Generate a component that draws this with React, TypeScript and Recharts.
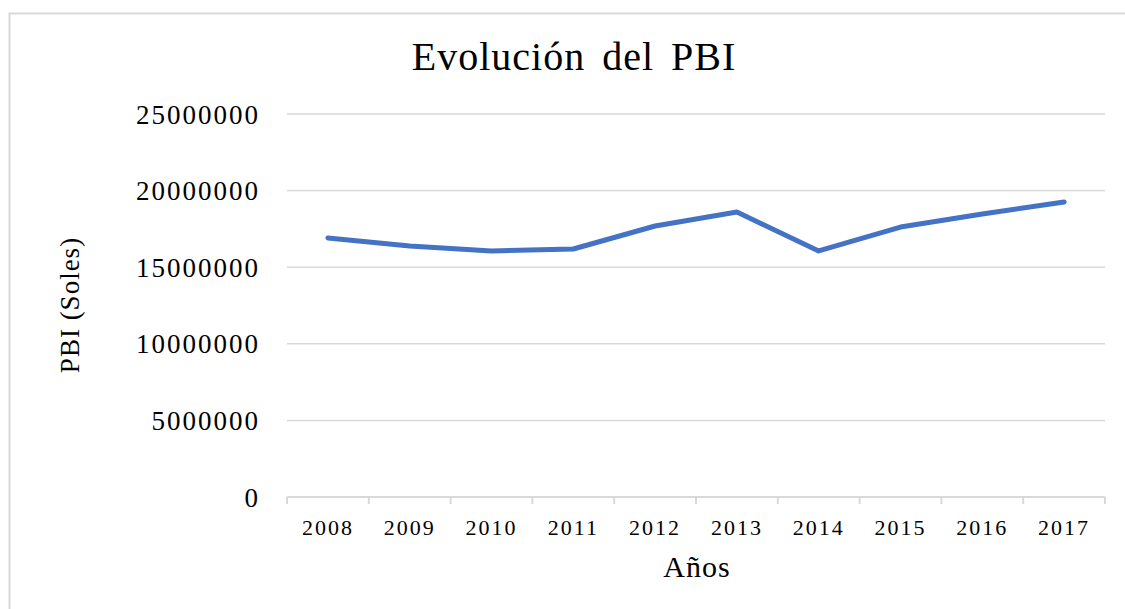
import React from "react";
import { LineChart, Line, XAxis, YAxis, CartesianGrid } from "recharts";

const years = ["2008", "2009", "2010", "2011", "2012", "2013", "2014", "2015", "2016", "2017"];
const pbi = [16910000, 16380000, 16060000, 16190000, 17690000, 18600000, 16060000, 17620000, 18470000, 19260000];
const yTicks = [0, 5000000, 10000000, 15000000, 20000000, 25000000];

const data = years.map((year, i) => ({ year, pbi: pbi[i] }));

const W = 1125;
const H = 609;
const PLOT_LEFT = 287;
const PLOT_RIGHT = 1105;
const FONT = "'Liberation Serif', 'Times New Roman', serif";
const GRID = "#d9d9d9";
const BAND = (PLOT_RIGHT - PLOT_LEFT) / years.length;

function YearTick(props: any) {
  const { x, y, payload, index } = props;
  const left = x - BAND / 2;
  const right = x + BAND / 2;
  return (
    <g>
      <line x1={left} y1={y} x2={left} y2={y + 7} stroke={GRID} strokeWidth={2} />
      {index === years.length - 1 && (
        <line x1={right} y1={y} x2={right} y2={y + 7} stroke={GRID} strokeWidth={2} />
      )}
      <text
        x={x}
        y={y + 38}
        textAnchor="middle"
        fontFamily={FONT}
        fontSize={22}
        letterSpacing={2}
        fill="#000"
      >
        {payload.value}
      </text>
    </g>
  );
}

export default function App() {
  return (
    <div style={{ position: "absolute", left: 0, top: 0, width: W, height: H, background: "#fff" }}>
      <LineChart
        width={W}
        height={H}
        data={data}
        margin={{ top: 114, right: W - PLOT_RIGHT, bottom: 52, left: 0 }}
      >
        <CartesianGrid vertical={false} stroke={GRID} strokeWidth={1.5} />
        <XAxis
          dataKey="year"
          height={60}
          padding={{ left: BAND / 2, right: BAND / 2 }}
          axisLine={{ stroke: GRID, strokeWidth: 2 }}
          tickLine={false}
          tickSize={0}
          tickMargin={0}
          interval={0}
          tick={<YearTick />}
        />
        <YAxis
          width={PLOT_LEFT}
          domain={[0, 25000000]}
          ticks={yTicks}
          axisLine={false}
          tickLine={false}
          tickSize={0}
          tickMargin={27}
          tick={{ fontFamily: FONT, fontSize: 27, fill: "#000", letterSpacing: 2 }}
        />
        <Line
          type="linear"
          dataKey="pbi"
          stroke="#4472C4"
          strokeWidth={5}
          strokeLinecap="round"
          strokeLinejoin="round"
          dot={false}
          activeDot={false}
          isAnimationActive={false}
        />
      </LineChart>
      <svg
        width={W}
        height={H}
        style={{ position: "absolute", left: 0, top: 0, pointerEvents: "none" }}
      >
        <rect x={9.5} y={13.5} width={1130} height={620} fill="none" stroke={GRID} strokeWidth={2} />
        <text
          x={574}
          y={70}
          textAnchor="middle"
          fontFamily={FONT}
          fontSize={40}
          letterSpacing={1}
          wordSpacing={6}
          fill="#000"
        >
          Evolución del PBI
        </text>
        <text
          x={697}
          y={577}
          textAnchor="middle"
          fontFamily={FONT}
          fontSize={30}
          letterSpacing={1}
          fill="#000"
        >
          Años
        </text>
        <text
          x={79}
          y={305}
          textAnchor="middle"
          transform="rotate(-90 79 305)"
          fontFamily={FONT}
          fontSize={27}
          letterSpacing={1}
          fill="#000"
        >
          PBI (Soles)
        </text>
      </svg>
    </div>
  );
}
